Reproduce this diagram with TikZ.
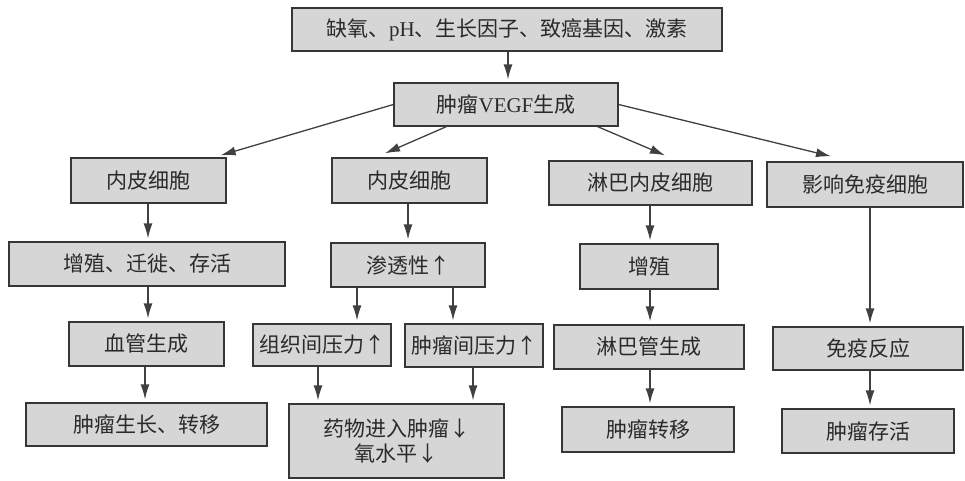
\documentclass[tikz,border=0pt]{standalone}
\usepackage{fontspec}
\newfontfamily\cjk{Noto Sans CJK SC}
\newfontfamily\lat{Liberation Serif}
\usetikzlibrary{arrows.meta,calc}
\definecolor{boxfill}{HTML}{D6D6D6}
\definecolor{boxline}{HTML}{363636}
\definecolor{txt}{HTML}{2A2A2A}
\definecolor{arrc}{HTML}{404040}
\begin{document}
\begin{tikzpicture}[x=1pt,y=-1pt,
  fbox/.style={draw=boxline,fill=boxfill,line width=1.3pt,inner sep=0pt,
    align=center,text=txt,font=\cjk\fontsize{21}{25}\selectfont},
  arr/.style={draw=arrc,line width=1.3pt,-{Latex[length=15pt,width=9pt]},shorten >=3pt}]
\useasboundingbox[fill=white] (0,0) rectangle (965,480);
% row 0/1
\node[fbox,minimum width=430pt,minimum height=43pt] (top) at (507,29.5) {缺氧、{\lat pH}、生长因子、致癌基因、激素};
\node[fbox,minimum width=224pt,minimum height=43pt] (vegf) at (506,104.5) {肿瘤{\lat VEGF}生成};
% row 2
\node[fbox,minimum width=155pt,minimum height=45pt] (e1) at (148.5,180.5) {内皮细胞};
\node[fbox,minimum width=155pt,minimum height=45pt] (e2) at (409.5,180.5) {内皮细胞};
\node[fbox,minimum width=203pt,minimum height=44pt] (ly) at (650.5,183) {淋巴内皮细胞};
\node[fbox,minimum width=196pt,minimum height=45pt] (im) at (865,184.5) {影响免疫细胞};
% row 3
\node[fbox,minimum width=276pt,minimum height=44pt] (p1) at (147,264) {增殖、迁徙、存活};
\node[fbox,minimum width=154pt,minimum height=44pt] (pe) at (408,265) {渗透性↑};
\node[fbox,minimum width=138pt,minimum height=45pt] (lp) at (649,266.5) {增殖};
% row 4
\node[fbox,minimum width=155pt,minimum height=44pt] (ag) at (146.5,344) {血管生成};
\node[fbox,minimum width=138pt,minimum height=42pt] (tp) at (322,345) {组织间压力↑};
\node[fbox,minimum width=138pt,minimum height=43pt] (tu) at (474,345.5) {肿瘤间压力↑};
\node[fbox,minimum width=190pt,minimum height=44pt] (lg) at (649,347) {淋巴管生成};
\node[fbox,minimum width=190pt,minimum height=43pt] (ir) at (868,348.5) {免疫反应};
% row 5
\node[fbox,minimum width=241pt,minimum height=43pt] (tg) at (146.5,424.5) {肿瘤生长、转移};
\node[fbox,minimum width=215pt,minimum height=74pt] (dr) at (396.5,441) {药物进入肿瘤↓\\氧水平↓};
\node[fbox,minimum width=172pt,minimum height=45pt] (tm) at (648,429.5) {肿瘤转移};
\node[fbox,minimum width=172pt,minimum height=44pt] (ts) at (868,431) {肿瘤存活};
% arrows
\draw[arr] (508,0 |- top.south) -- (508,0 |- vegf.north);
\draw[arr,shorten >=0pt] (vegf.west) -- ($(e1.north east)+(-6,-2)$);
\draw[arr,shorten >=0pt] ($(vegf.south west)+(53,0)$) -- ($(e2.north)+(-24.5,-4)$);
\draw[arr,shorten >=0pt] ($(vegf.south east)+(-21,0)$) -- ($(ly.north)+(14.5,-5)$);
\draw[arr,shorten >=0pt] (vegf.east) -- ($(im.north)+(-34,-5)$);
\draw[arr] (148,0 |- e1.south) -- (148,0 |- p1.north);
\draw[arr] (408,0 |- e2.south) -- (408,0 |- pe.north);
\draw[arr] (650,0 |- ly.south) -- (650,0 |- lp.north);
\draw[arr] (870,0 |- im.south) -- (870,0 |- ir.north);
\draw[arr] (148,0 |- p1.south) -- (148,0 |- ag.north);
\draw[arr] (357,0 |- pe.south) -- (357,0 |- tp.north);
\draw[arr] (453,0 |- pe.south) -- (453,0 |- tu.north);
\draw[arr] (650,0 |- lp.south) -- (650,0 |- lg.north);
\draw[arr] (145,0 |- ag.south) -- (145,0 |- tg.north);
\draw[arr] (318,0 |- tp.south) -- (318,0 |- dr.north);
\draw[arr] (473,0 |- tu.south) -- (473,0 |- dr.north);
\draw[arr] (650,0 |- lg.south) -- (650,0 |- tm.north);
\draw[arr] (870,0 |- ir.south) -- (870,0 |- ts.north);
\end{tikzpicture}
\end{document}
